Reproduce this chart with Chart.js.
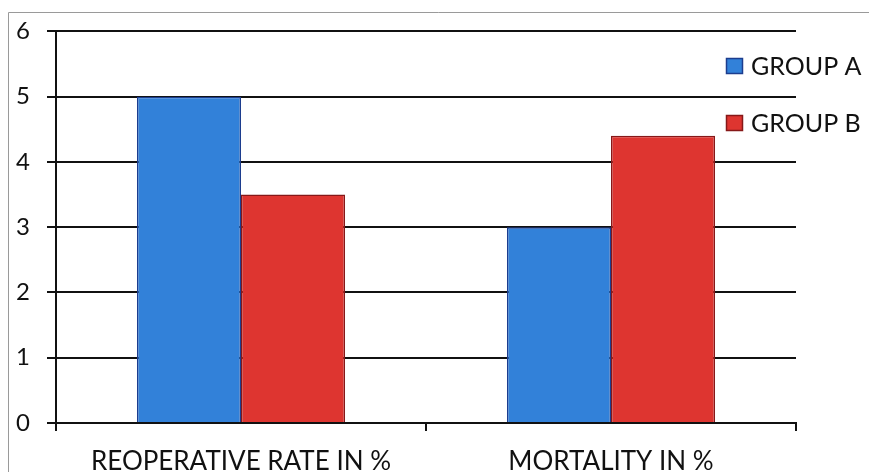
<!DOCTYPE html>
<html>
<head>
<meta charset="utf-8">
<script src="https://cdn.jsdelivr.net/npm/chart.js@4/dist/chart.umd.min.js"></script>
<style>
  html, body { margin: 0; padding: 0; background: #fff; }
  #wrap { position: relative; width: 869px; height: 472px; }
</style>
</head>
<body>
<div id="wrap"><canvas id="c" width="869" height="472"></canvas></div>
<script>
// Categories and series
const categories = ['REOPERATIVE RATE IN %', 'MORTALITY IN %'];
const groupA = [5, 3];
const groupB = [3.5, 4.4];
const seriesNames = ['GROUP A', 'GROUP B'];
const yTicks = [0, 1, 2, 3, 4, 5, 6];

const FONT = 'Lato, "Open Sans", sans-serif';

// Thin outer frame on the left and top edges
const framePlugin = {
  id: 'frame',
  beforeDraw(chart) {
    const ctx = chart.ctx;
    ctx.save();
    ctx.fillStyle = '#fff';
    ctx.fillRect(0, 0, chart.width, chart.height);
    ctx.strokeStyle = '#9a9a9a';
    ctx.lineWidth = 1;
    ctx.beginPath();
    ctx.moveTo(8.5, chart.height);
    ctx.lineTo(8.5, 12.5);
    ctx.lineTo(chart.width, 12.5);
    ctx.stroke();
    ctx.restore();
  }
};

// Legend drawn from the dataset labels and colours
const legendPlugin = {
  id: 'sideLegend',
  afterDraw(chart) {
    const ctx = chart.ctx;
    ctx.save();
    const x0 = 726, y0 = 58, gap = 57;
    chart.data.datasets.forEach((ds, i) => {
      const y = y0 + i * gap;
      ctx.fillStyle = ds.backgroundColor;
      ctx.fillRect(x0, y, 17, 16);
      ctx.strokeStyle = ds.borderColor;
      ctx.lineWidth = 1.5;
      ctx.strokeRect(x0 + 0.5, y + 0.5, 16, 15);
      ctx.fillStyle = '#111';
      ctx.font = '25px ' + FONT;
      ctx.textBaseline = 'middle';
      ctx.textAlign = 'left';
      ctx.fillText(ds.label, 751, y + 9);
    });
    ctx.restore();
  }
};

new Chart(document.getElementById('c'), {
  type: 'bar',
  data: {
    labels: categories,
    datasets: [
      { label: seriesNames[0], data: groupA, backgroundColor: '#3281D9', borderColor: '#1C3D8E', borderWidth: 1.5 },
      { label: seriesNames[1], data: groupB, backgroundColor: '#DE3530', borderColor: '#861818', borderWidth: 1.5 }
    ]
  },
  options: {
    responsive: false,
    animation: false,
    devicePixelRatio: 1,
    layout: { padding: { left: 8, right: 73, top: 30, bottom: 0 } },
    plugins: { legend: { display: false }, tooltip: { enabled: false } },
    datasets: { bar: { categoryPercentage: 0.5625, barPercentage: 1 } },
    scales: {
      x: {
        grid: { drawOnChartArea: false, drawTicks: true, tickLength: 8, color: '#111', lineWidth: 2 },
        border: { color: '#111', width: 2 },
        ticks: { color: '#111', font: { family: FONT, size: 26 }, padding: 15, maxRotation: 0 },
        afterFit(scale) { scale.height = 49; }
      },
      y: {
        min: 0, max: 6,
        afterBuildTicks(scale) { scale.ticks = yTicks.map(v => ({ value: v })); },
        grid: { color: '#111', lineWidth: 2, tickLength: 9 },
        border: { color: '#111', width: 2 },
        ticks: { color: '#111', font: { family: FONT, size: 24 }, padding: 17 },
        afterFit(scale) { scale.width = 48; }
      }
    }
  },
  plugins: [framePlugin, legendPlugin]
});
</script>
</body>
</html>
